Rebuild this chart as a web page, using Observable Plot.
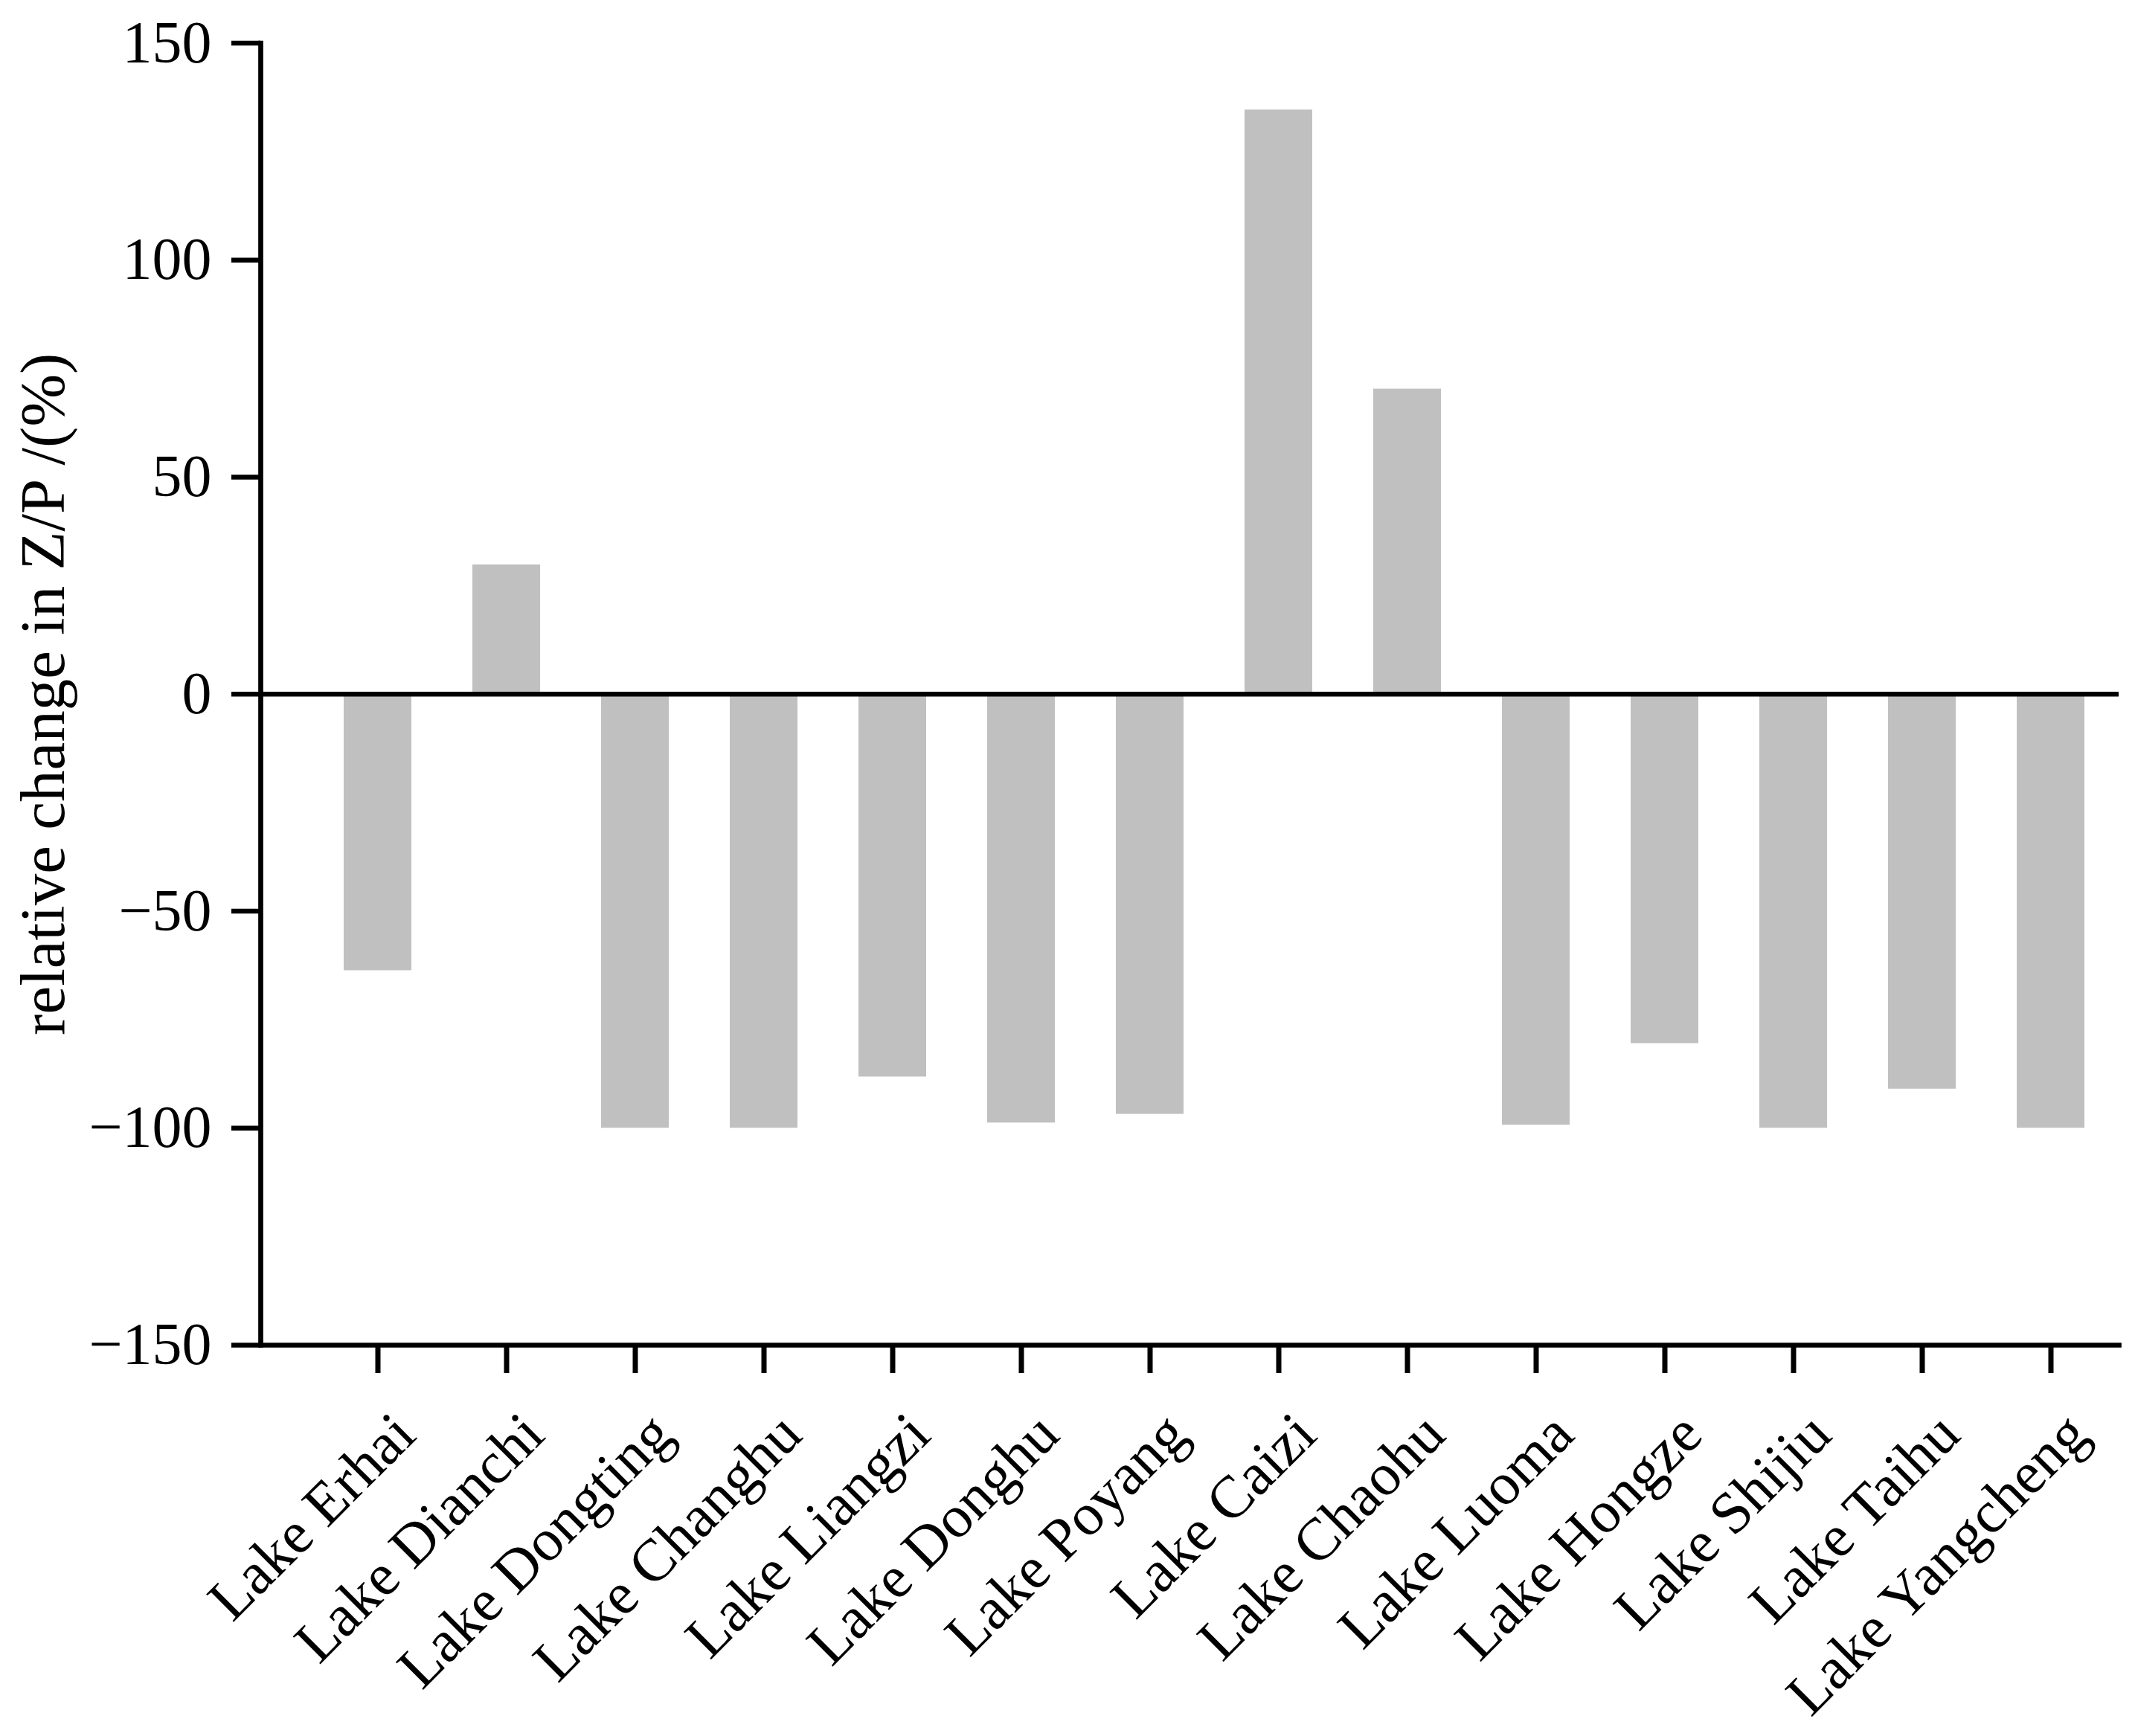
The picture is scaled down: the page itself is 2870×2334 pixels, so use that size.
<!DOCTYPE html>
<html>
<head>
<meta charset="utf-8">
<script src="https://cdn.jsdelivr.net/npm/d3@7"></script>
<script src="https://cdn.jsdelivr.net/npm/@observablehq/plot@0.6"></script>
<style>
  html, body { margin: 0; padding: 0; background: #ffffff; }
  #chart svg { display: block; }
</style>
</head>
<body>
<div id="chart"></div>
<script>
const lakes = ["Lake Erhai", "Lake Dianchi", "Lake Dongting", "Lake Changhu", "Lake Liangzi",
  "Lake Donghu", "Lake Poyang", "Lake Caizi", "Lake Chaohu", "Lake Luoma",
  "Lake Hongze", "Lake Shijiu", "Lake Taihu", "Lake Yangcheng"];
const changes = [-63.7, 29.8, -100, -100, -88.2, -98.8, -96.8, 134.6, 70.3, -99.3, -80.5, -100, -91.0, -100];
const yTicks = [-150, -100, -50, 0, 50, 100, 150];
const yLabel = "relative change in Z/P /(%)";

const data = lakes.map((lake, i) => ({lake, value: changes[i]}));

const W = 2870, H = 2334;
const mL = 350, mR = 22, mT = 57.5, mB = 526;
const step = 173.1;
const firstCenter = 507;
const xRange = [firstCenter - step / 2, firstCenter + step * (lakes.length - 0.5)];

const font = "'Liberation Serif', 'Times New Roman', Times, serif";
const sw = 6.7;

const chart = Plot.plot({
  width: W,
  height: H,
  marginLeft: mL,
  marginRight: mR,
  marginTop: mT,
  marginBottom: mB,
  style: {fontFamily: font, fontSize: "80px", color: "#000", background: "#fff"},
  x: {domain: lakes, range: xRange, paddingInner: 0.474, paddingOuter: 0.237, axis: null},
  y: {domain: [-150, 150], axis: null},
  marks: [
    Plot.barY(data, {x: "lake", y: "value", fill: "#c0c0c0"}),
    Plot.ruleY([0], {stroke: "#000", strokeWidth: sw}),
    Plot.frame({anchor: "left", stroke: "#000", strokeWidth: sw, strokeLinecap: "square"}),
    Plot.frame({anchor: "bottom", stroke: "#000", strokeWidth: sw}),
    Plot.axisY({ticks: yTicks, tickSize: 39, tickPadding: 27, strokeWidth: sw, fontSize: 80, label: null, fontFamily: font}),
    Plot.axisX({tickSize: 38, strokeWidth: 7, tickFormat: () => "", label: null}),
    Plot.text(lakes, {x: d => d, text: d => d, frameAnchor: "bottom", rotate: -45, textAnchor: "end", lineAnchor: "top",
      dx: 14, dy: 84, fontSize: 80, fontFamily: font, fill: "#000"}),
    Plot.text([yLabel], {text: d => d, frameAnchor: "left", rotate: -90, textAnchor: "middle", lineAnchor: "middle",
      dx: -292, fontSize: 85, fontFamily: font, fill: "#000"})
  ]
});
document.getElementById("chart").appendChild(chart);
</script>
</body>
</html>
